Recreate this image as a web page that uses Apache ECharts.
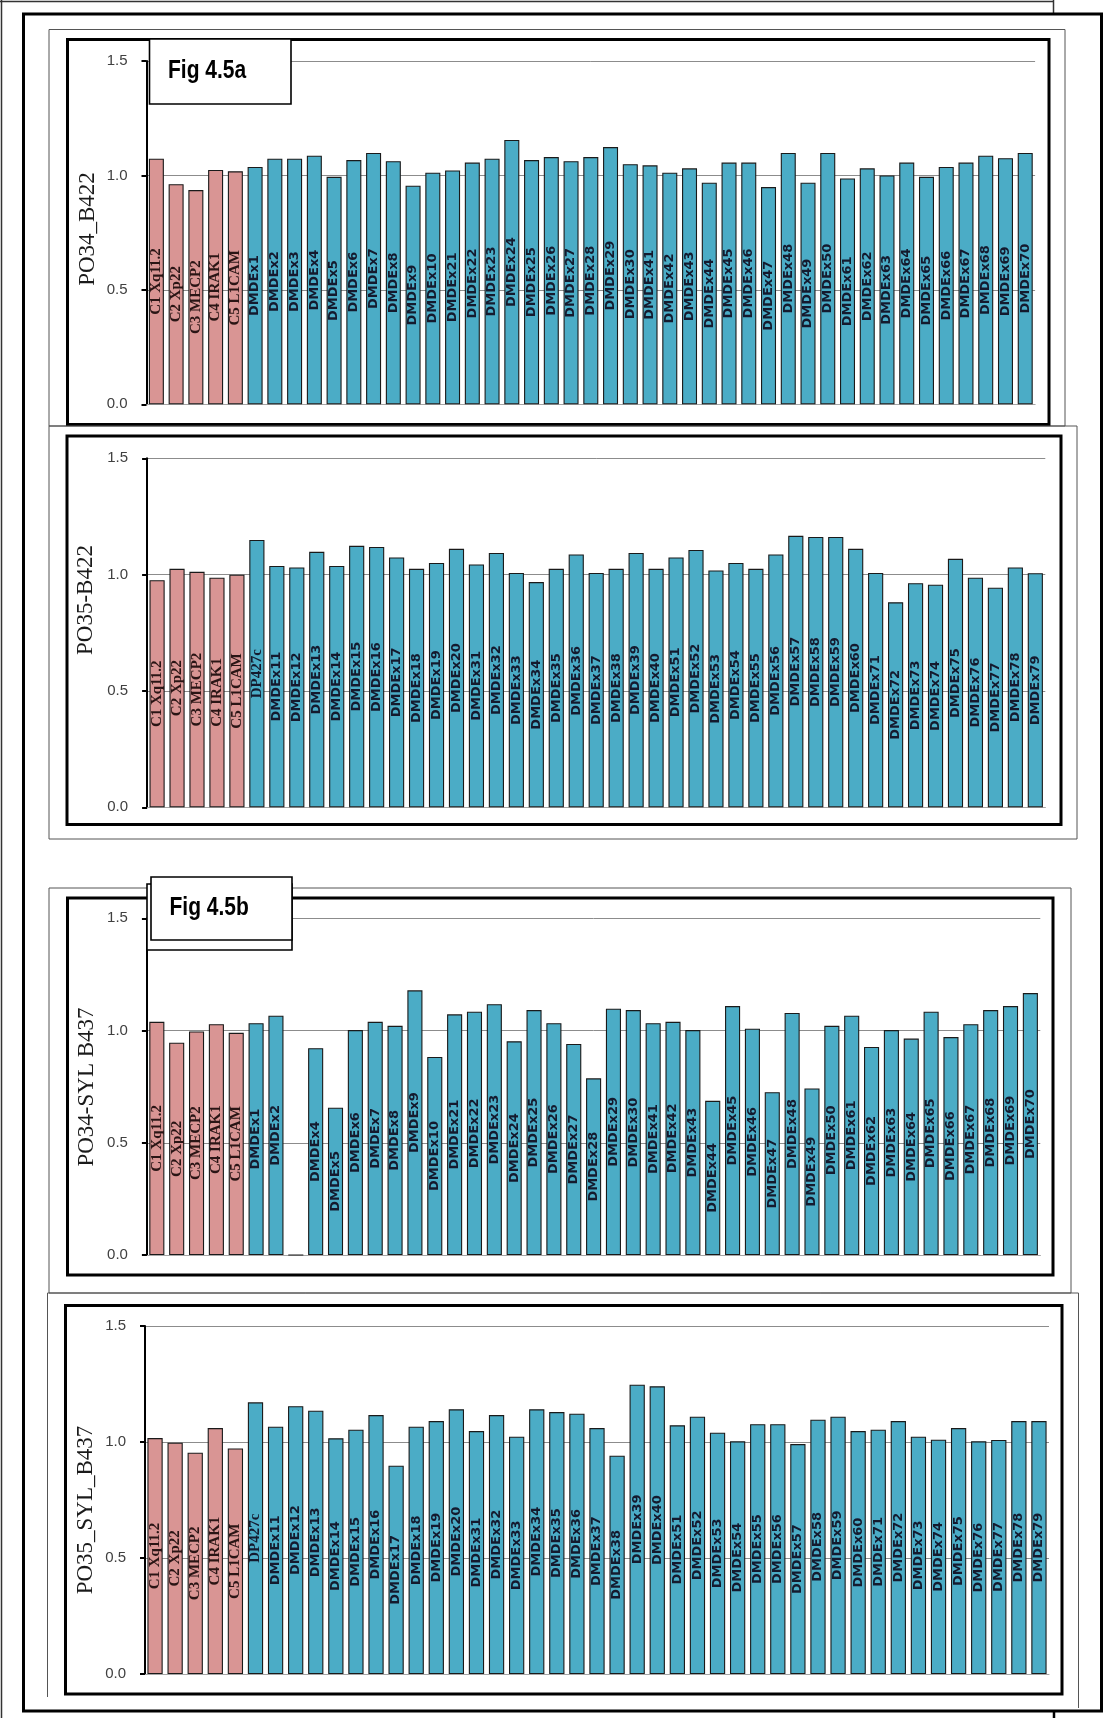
<!DOCTYPE html>
<html>
<head>
<meta charset="utf-8">
<title>Fig 4.5 – DMD exon dosage ratios</title>
<script src="https://cdn.jsdelivr.net/npm/echarts@6/dist/echarts.min.js"></script>
<style>
  html, body { margin: 0; padding: 0; background: #ffffff; }
  #chart { width: 1104px; height: 1718px; }
</style>
</head>
<body>
<div id="chart"></div>
<script>
// ---- categories ----
const controls = ['C1 Xq11.2', 'C2 Xp22', 'C3 MECP2', 'C4 IRAK1', 'C5 L1CAM'];
const exonsSetA = [1, 2, 3, 4, 5, 6, 7, 8, 9, 10, 21, 22, 23, 24, 25, 26, 27, 28, 29, 30,
                   41, 42, 43, 44, 45, 46, 47, 48, 49, 50, 61, 62, 63, 64, 65, 66, 67, 68, 69, 70];
const exonsSetB = [11, 12, 13, 14, 15, 16, 17, 18, 19, 20, 31, 32, 33, 34, 35, 36, 37, 38, 39, 40,
                   51, 52, 53, 54, 55, 56, 57, 58, 59, 60, 71, 72, 73, 74, 75, 76, 77, 78, 79];
const categoriesA = controls.concat(exonsSetA.map(n => 'DMDEx' + n));
const categoriesB = controls.concat(['DP427c'], exonsSetB.map(n => 'DMDEx' + n));

// ---- axis titles and tick labels ----
const panelTitles = ['PO34_B422', 'PO35-B422', 'PO34-SYL B437', 'PO35_SYL_B437'];
const figLabels = ['Fig 4.5a', 'Fig 4.5b'];
const yTicks = [0.0, 0.5, 1.0, 1.5];

// ---- ratio values ----
// PO34_B422 (categoriesA)
const po34B422Controls = [1.073, 0.962, 0.936, 1.024, 1.018];
const po34B422Ex1to10  = [1.037, 1.073, 1.073, 1.086, 0.994, 1.067, 1.098, 1.062, 0.955, 1.012];
const po34B422Ex21to30 = [1.022, 1.056, 1.073, 1.155, 1.067, 1.080, 1.062, 1.080, 1.124, 1.049];
const po34B422Ex41to50 = [1.044, 1.012, 1.031, 0.968, 1.056, 1.056, 0.949, 1.098, 0.968, 1.098];
const po34B422Ex61to70 = [0.987, 1.031, 1.000, 1.056, 0.994, 1.037, 1.056, 1.086, 1.075, 1.098];

// PO35-B422 (categoriesB)
const po35B422Controls = [0.976, 1.025, 1.012, 0.987, 1.000];
const po35B422Dp427c   = [1.149];
const po35B422Ex11to20 = [1.037, 1.031, 1.098, 1.037, 1.124, 1.119, 1.074, 1.025, 1.050, 1.111];
const po35B422Ex31to40 = [1.044, 1.093, 1.007, 0.968, 1.025, 1.087, 1.007, 1.025, 1.093, 1.025];
const po35B422Ex51to60 = [1.074, 1.106, 1.018, 1.050, 1.025, 1.087, 1.167, 1.162, 1.162, 1.111];
const po35B422Ex71to79 = [1.007, 0.881, 0.963, 0.957, 1.068, 0.987, 0.944, 1.031, 1.006];

// PO34-SYL B437 (categoriesA) – exon 3 gives no signal
const po34B437Controls = [1.039, 0.946, 0.996, 1.028, 0.990];
const po34B437Ex1to10  = [1.033, 1.066, 0, 0.921, 0.656, 1.002, 1.039, 1.021, 1.179, 0.882];
const po34B437Ex21to30 = [1.072, 1.084, 1.117, 0.952, 1.091, 1.033, 0.940, 0.787, 1.097, 1.091];
const po34B437Ex41to50 = [1.033, 1.039, 1.002, 0.687, 1.109, 1.008, 0.725, 1.078, 0.742, 1.021];
const po34B437Ex61to70 = [1.066, 0.927, 1.002, 0.964, 1.084, 0.971, 1.028, 1.091, 1.109, 1.167];

// PO35_SYL_B437 (categoriesB)
const po35B437Controls = [1.017, 0.997, 0.954, 1.060, 0.972];
const po35B437Dp427c   = [1.171];
const po35B437Ex11to20 = [1.066, 1.154, 1.135, 1.016, 1.053, 1.116, 0.898, 1.066, 1.090, 1.141];
const po35B437Ex31to40 = [1.047, 1.116, 1.023, 1.141, 1.129, 1.122, 1.060, 0.941, 1.247, 1.240];
const po35B437Ex51to60 = [1.072, 1.109, 1.040, 1.003, 1.077, 1.077, 0.991, 1.096, 1.109, 1.047];
const po35B437Ex71to79 = [1.053, 1.090, 1.023, 1.010, 1.060, 1.003, 1.009, 1.090, 1.090];

const panelValues = [
  [].concat(po34B422Controls, po34B422Ex1to10, po34B422Ex21to30, po34B422Ex41to50, po34B422Ex61to70),
  [].concat(po35B422Controls, po35B422Dp427c, po35B422Ex11to20, po35B422Ex31to40, po35B422Ex51to60, po35B422Ex71to79),
  [].concat(po34B437Controls, po34B437Ex1to10, po34B437Ex21to30, po34B437Ex41to50, po34B437Ex61to70),
  [].concat(po35B437Controls, po35B437Dp427c, po35B437Ex11to20, po35B437Ex31to40, po35B437Ex51to60, po35B437Ex71to79)
];
const panelCategories = [categoriesA, categoriesB, categoriesA, categoriesB];

// ---- styling ----
const CONTROL_COLOR = '#d99594';
const EXON_COLOR = '#4bacc6';
const SANS = '"Liberation Sans", Arial, sans-serif';
const WIDE_SANS = '"DejaVu Sans", Verdana, sans-serif';
const SERIF = '"Liberation Serif", "Times New Roman", serif';

// plotting areas of the four panels (pixels)
const grids = [
  { left: 146.5, top: 61,    width: 888.6, height: 343.3 },
  { left: 147.1, top: 458.3, width: 898.2, height: 349 },
  { left: 146.9, top: 918.3, width: 893.4, height: 336.7 },
  { left: 145,   top: 1326,  width: 904,   height: 348 }
];

function barData(values, cats) {
  return values.map((v, i) => {
    const isControl = i < controls.length;
    const serifLabel = isControl || cats[i] === 'DP427c';
    return {
      value: v,
      itemStyle: { color: isControl ? CONTROL_COLOR : EXON_COLOR },
      label: {
        show: v > 0,
        fontFamily: serifLabel ? SERIF : WIDE_SANS,
        fontSize: serifLabel ? 15 : 13,
        color: isControl ? '#2a1515' : '#141a2e'
      }
    };
  });
}

const xAxes = grids.map((g, i) => ({
  type: 'category',
  gridIndex: i,
  data: panelCategories[i],
  axisLabel: { show: false },
  axisTick: { show: false },
  axisLine: { show: true, lineStyle: { color: '#a6a6a6', width: 1 } }
}));

const yAxes = grids.map((g, i) => ({
  type: 'value',
  gridIndex: i,
  min: yTicks[0],
  max: yTicks[yTicks.length - 1],
  interval: 0.5,
  axisLine: { show: true, lineStyle: { color: '#000', width: 2 } },
  axisTick: { show: true, length: 5, lineStyle: { color: '#000', width: 2 } },
  axisLabel: {
    margin: 19,
    fontFamily: SANS,
    fontSize: 15,
    color: '#404040',
    formatter: v => v.toFixed(1)
  },
  splitLine: { show: true, lineStyle: { color: '#8c8c8c', width: 1 } }
}));

const series = grids.map((g, i) => ({
  type: 'bar',
  xAxisIndex: i,
  yAxisIndex: i,
  barCategoryGap: '24%',
  data: barData(panelValues[i], panelCategories[i]),
  itemStyle: { borderColor: '#1a1a1a', borderWidth: 1.1 },
  label: {
    position: 'inside',
    rotate: 90,
    fontWeight: 'bold',
    formatter: '{b}'
  }
}));

// ---- frames, figure tags, axis titles ----
function frame(x1, y1, x2, y2, w, color, z) {
  return {
    type: 'rect', z: z || 1, silent: true,
    shape: { x: x1, y: y1, width: x2 - x1, height: y2 - y1 },
    style: { fill: null, stroke: color, lineWidth: w }
  };
}
function line(x1, y1, x2, y2, w, color) {
  return {
    type: 'line', z: 1, silent: true,
    shape: { x1: x1, y1: y1, x2: x2, y2: y2 },
    style: { stroke: color, lineWidth: w }
  };
}
function tagBox(x1, y1, x2, y2) {
  return {
    type: 'rect', z: 60, silent: true,
    shape: { x: x1, y: y1, width: x2 - x1, height: y2 - y1 },
    style: { fill: '#ffffff', stroke: '#000', lineWidth: 1.6 }
  };
}
function tagText(text, x, y) {
  return {
    type: 'text', z: 61, silent: true, x: x, y: y, scaleX: 0.84,
    style: {
      text: text, x: 0, y: 0,
      font: 'bold 25px ' + SANS, fill: '#000',
      textAlign: 'left', textVerticalAlign: 'middle',
      align: 'left', verticalAlign: 'middle'
    }
  };
}
function axisTitle(text, x, y) {
  return {
    type: 'text', z: 5, silent: true, x: x, y: y, rotation: Math.PI / 2,
    style: {
      text: text, x: 0, y: 0,
      font: '23px ' + SERIF, fill: '#1a1a1a',
      textAlign: 'center', textVerticalAlign: 'middle',
      align: 'center', verticalAlign: 'middle'
    }
  };
}

const graphics = [
  // page borders
  line(1.5, 0, 1.5, 1718, 1.5, '#333'),
  line(0, 1.5, 1053.5, 1.5, 1.5, '#333'),
  line(1053.5, 0, 1053.5, 14, 1.5, '#333'),
  frame(23.5, 14, 1101.5, 1711, 3, '#000'),
  line(1054, 1711, 1054, 1718, 2.5, '#000'),

  // panel outlines: thin outer, thick inner
  frame(49, 29.5, 1065, 426, 1, '#555'),
  frame(67.5, 39.5, 1049, 424.5, 3, '#000'),
  frame(49, 426, 1077, 839, 1, '#555'),
  frame(67, 436, 1061, 824.5, 3, '#000'),
  frame(49, 888, 1071, 1293, 1, '#555'),
  frame(67.5, 898, 1053, 1275, 3, '#000'),
  line(47.5, 1293, 1078.5, 1293, 1, '#555'),
  line(47.5, 1293, 47.5, 1697, 1, '#555'),
  line(1078.5, 1293, 1078.5, 1708, 1, '#555'),
  frame(65.5, 1305.5, 1062, 1694, 3, '#000'),

  // figure tags
  tagBox(149.5, 39, 291, 104),
  tagText(figLabels[0], 168, 71.5),
  tagBox(147, 884, 292, 950),
  tagBox(151, 877, 292, 940),
  tagText(figLabels[1], 169.5, 908.5),

  // axis titles
  axisTitle(panelTitles[0], 88, 229),
  axisTitle(panelTitles[1], 86, 600),
  axisTitle(panelTitles[2], 87, 1087),
  axisTitle(panelTitles[3], 86, 1510)
];

const chart = echarts.init(document.getElementById('chart'), null, {
  renderer: 'canvas', width: 1104, height: 1718
});
chart.setOption({
  backgroundColor: '#ffffff',
  animation: false,
  textStyle: { fontFamily: SANS },
  grid: grids.map(g => Object.assign({ containLabel: false }, g)),
  xAxis: xAxes,
  yAxis: yAxes,
  series: series,
  graphic: { elements: graphics }
});
</script>
</body>
</html>
